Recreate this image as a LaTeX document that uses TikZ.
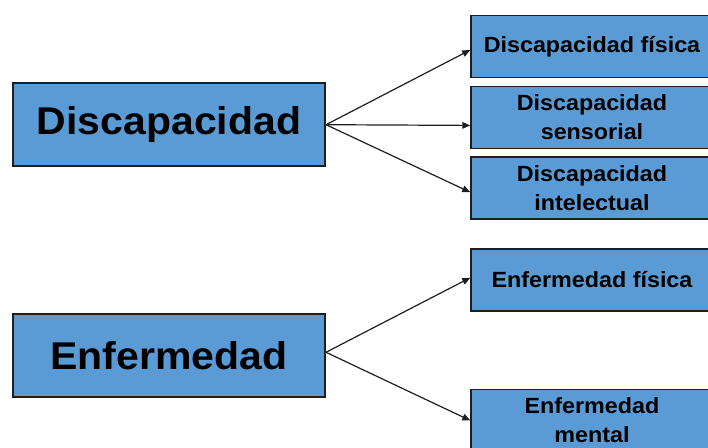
\documentclass[tikz,border=0pt]{standalone}
\usepackage{fontspec}
\setmainfont{Liberation Sans}[FakeStretch=1.06]
\usetikzlibrary{arrows.meta}
\definecolor{boxblue}{HTML}{5B9BD5}
\definecolor{boxline}{HTML}{1E1E1E}
\tikzset{
  bigbox/.style={draw=boxline, fill=boxblue, line width=1.5pt, minimum width=312*0.75pt, minimum height=83*0.75pt, inner sep=0pt, font=\fontsize{29}{34}\selectfont\bfseries},
  smallbox/.style={draw=boxline, fill=boxblue, line width=1.1pt, minimum width=262*0.75pt, minimum height=62*0.75pt, inner sep=0pt},
  smalltext/.style={align=center, inner sep=0pt, xshift=-10*0.75pt, font=\fontsize{16.5}{21.75}\selectfont\bfseries},
  conn/.style={draw=boxline, line width=0.9pt, -{Triangle[length=6pt,width=5pt]}}
}
\begin{document}
\begin{tikzpicture}[x=0.75pt, y=-0.75pt]
\useasboundingbox (0,0) rectangle (708,447);
\clip (0,0) rectangle (708,447);
\node[bigbox] (dis) at (169,124.7) {Discapacidad};
\node[smallbox, label={[smalltext]center:Discapacidad física}] (d1) at (602,46.5) {};
\node[smallbox, label={[smalltext]center:Discapacidad\\sensorial}] (d2) at (602,117.4) {};
\node[smallbox, label={[smalltext]center:Discapacidad\\intelectual}] (d3) at (602,188.1) {};
\node[bigbox] (enf) at (169,355.2) {Enfermedad};
\node[smallbox, label={[smalltext]center:Enfermedad física}] (e1) at (602,280) {};
\node[smallbox, label={[smalltext]center:Enfermedad\\mental}] (e2) at (602,420.5) {};
\draw[conn] (dis.east) -- ([yshift=-2.6pt]d1.west);
\draw[conn] (dis.east) -- ([yshift=-6pt]d2.west);
\draw[conn] (dis.east) -- ([yshift=-3.1pt]d3.west);
\draw[conn] ([yshift=2.2pt]enf.east) -- ([yshift=1.7pt]e1.west);
\draw[conn] ([yshift=2.2pt]enf.east) -- (e2.west);
\end{tikzpicture}
\end{document}
